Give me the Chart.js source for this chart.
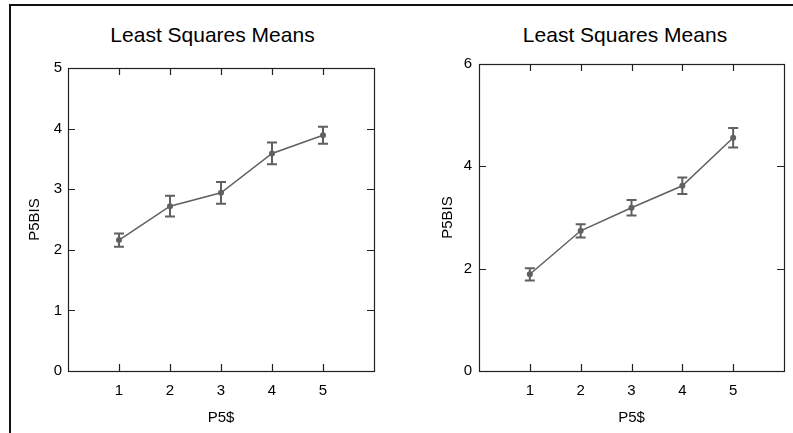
<!DOCTYPE html>
<html>
<head>
<meta charset="utf-8">
<script src="https://cdn.jsdelivr.net/npm/chart.js@4.4.1/dist/chart.umd.min.js"></script>
<style>
  body { margin: 0; background: #fff; width: 793px; height: 433px; overflow: hidden; position: relative; font-family: "Liberation Sans", Arial, sans-serif; }
  #frame { position: absolute; left: 9px; top: 4px; width: 800px; height: 440px; border-top: 2px solid #111; border-left: 2px solid #111; }
  .title { position: absolute; font-size: 21px; line-height: 21px; color: #000; white-space: nowrap; transform: translateX(-50%); }
  .box { position: absolute; top: 0; height: 433px; }
</style>
</head>
<body>
<div id="frame"></div>
<div class="title" style="left:212.5px; top:24px;">Least Squares Means</div>
<div class="title" style="left:625px; top:23.5px;">Least Squares Means</div>
<div class="box" style="left:0; width:400px;"><canvas id="left" width="400" height="433"></canvas></div>
<div class="box" style="left:400px; width:393px;"><canvas id="right" width="393" height="433"></canvas></div>
<script>
// P5$ levels and least squares means of P5BIS (± error)
const levels = [1, 2, 3, 4, 5];
const leftMeans = [2.16, 2.72, 2.94, 3.59, 3.89];
const leftErr = [0.11, 0.17, 0.18, 0.18, 0.14];
const rightMeans = [1.89, 2.74, 3.19, 3.62, 4.56];
const rightErr = [0.12, 0.13, 0.15, 0.16, 0.19];

const ink = '#000';
const markColor = '#606060';

Chart.defaults.font.family = 'Liberation Sans';
Chart.defaults.font.size = 15;
Chart.defaults.color = ink;

// box round the plot area with small inward ticks on every side
const frameTicks = {
  id: 'frameTicks',
  afterDraw(chart) {
    const { ctx, chartArea: a } = chart;
    const xs = chart.scales.x, ys = chart.scales.y;
    const len = 7;
    ctx.save();
    ctx.strokeStyle = '#222';
    ctx.lineWidth = 1.2;
    ctx.strokeRect(a.left + 0.5, a.top + 0.5, a.right - a.left, a.bottom - a.top);
    ctx.beginPath();
    xs.ticks.forEach(t => {
      const px = Math.round(xs.getPixelForValue(t.value)) + 0.5;
      ctx.moveTo(px, a.bottom); ctx.lineTo(px, a.bottom - len);
      ctx.moveTo(px, a.top); ctx.lineTo(px, a.top + len);
    });
    ys.ticks.forEach(t => {
      if (t.value === ys.min || t.value === ys.max) return;
      const py = Math.round(ys.getPixelForValue(t.value)) + 0.5;
      ctx.moveTo(a.left, py); ctx.lineTo(a.left + len, py);
      ctx.moveTo(a.right, py); ctx.lineTo(a.right - len, py);
    });
    ctx.stroke();
    ctx.restore();
  }
};

// vertical error bars with caps, drawn under the line and points
const errorBars = {
  id: 'errorBars',
  beforeDatasetsDraw(chart, args, opts) {
    const { ctx } = chart;
    const xs = chart.scales.x, ys = chart.scales.y;
    const means = opts.means, err = opts.err;
    ctx.save();
    ctx.strokeStyle = markColor;
    ctx.lineWidth = 2;
    ctx.beginPath();
    for (let i = 0; i < levels.length; i++) {
      const px = xs.getPixelForValue(levels[i]);
      const top = ys.getPixelForValue(means[i] + err[i]);
      const bot = ys.getPixelForValue(means[i] - err[i]);
      ctx.moveTo(px, top); ctx.lineTo(px, bot);
      ctx.moveTo(px - 5, top); ctx.lineTo(px + 5, top);
      ctx.moveTo(px - 5, bot); ctx.lineTo(px + 5, bot);
    }
    ctx.stroke();
    ctx.restore();
  }
};

function makeChart(id, means, err, yMax, yStep, axisWidth, titlePad, labelPad, padTop, padRight) {
  return new Chart(document.getElementById(id), {
    type: 'line',
    data: {
      datasets: [{
        data: levels.map((v, i) => ({ x: v, y: means[i] })),
        borderColor: markColor,
        borderWidth: 1.5,
        pointRadius: 3,
        pointBackgroundColor: markColor,
        pointBorderWidth: 0,
        tension: 0,
      }],
    },
    options: {
      responsive: false,
      animation: false,
      events: [],
      layout: { padding: { top: padTop, right: padRight, bottom: 0, left: 0 } },
      plugins: {
        legend: { display: false },
        tooltip: { enabled: false },
        errorBars: { means: means, err: err },
      },
      scales: {
        x: {
          type: 'linear',
          min: 0,
          max: 6,
          afterBuildTicks: s => { s.ticks = levels.map(v => ({ value: v })); },
          afterFit: s => { s.height = 62; },
          grid: { display: false, drawTicks: false },
          border: { display: false },
          ticks: { color: ink, padding: 11 },
          title: {
            display: true,
            text: 'P5$',
            color: ink,
            padding: { top: 0, bottom: 6 },
          },
        },
        y: {
          min: 0,
          max: yMax,
          afterFit: s => { s.width = axisWidth; },
          grid: { display: false, drawTicks: false },
          border: { display: false },
          ticks: { stepSize: yStep, color: ink, padding: labelPad },
          title: {
            display: true,
            text: 'P5BIS',
            color: ink,
            padding: { top: titlePad, bottom: 0 },
          },
        },
      },
    },
    plugins: [errorBars, frameTicks],
  });
}

makeChart('left', leftMeans, leftErr, 5, 1, 68, 26, 6, 68, 26);
makeChart('right', rightMeans, rightErr, 6, 2, 79, 38.5, 7, 64, 9);
</script>
</body>
</html>
